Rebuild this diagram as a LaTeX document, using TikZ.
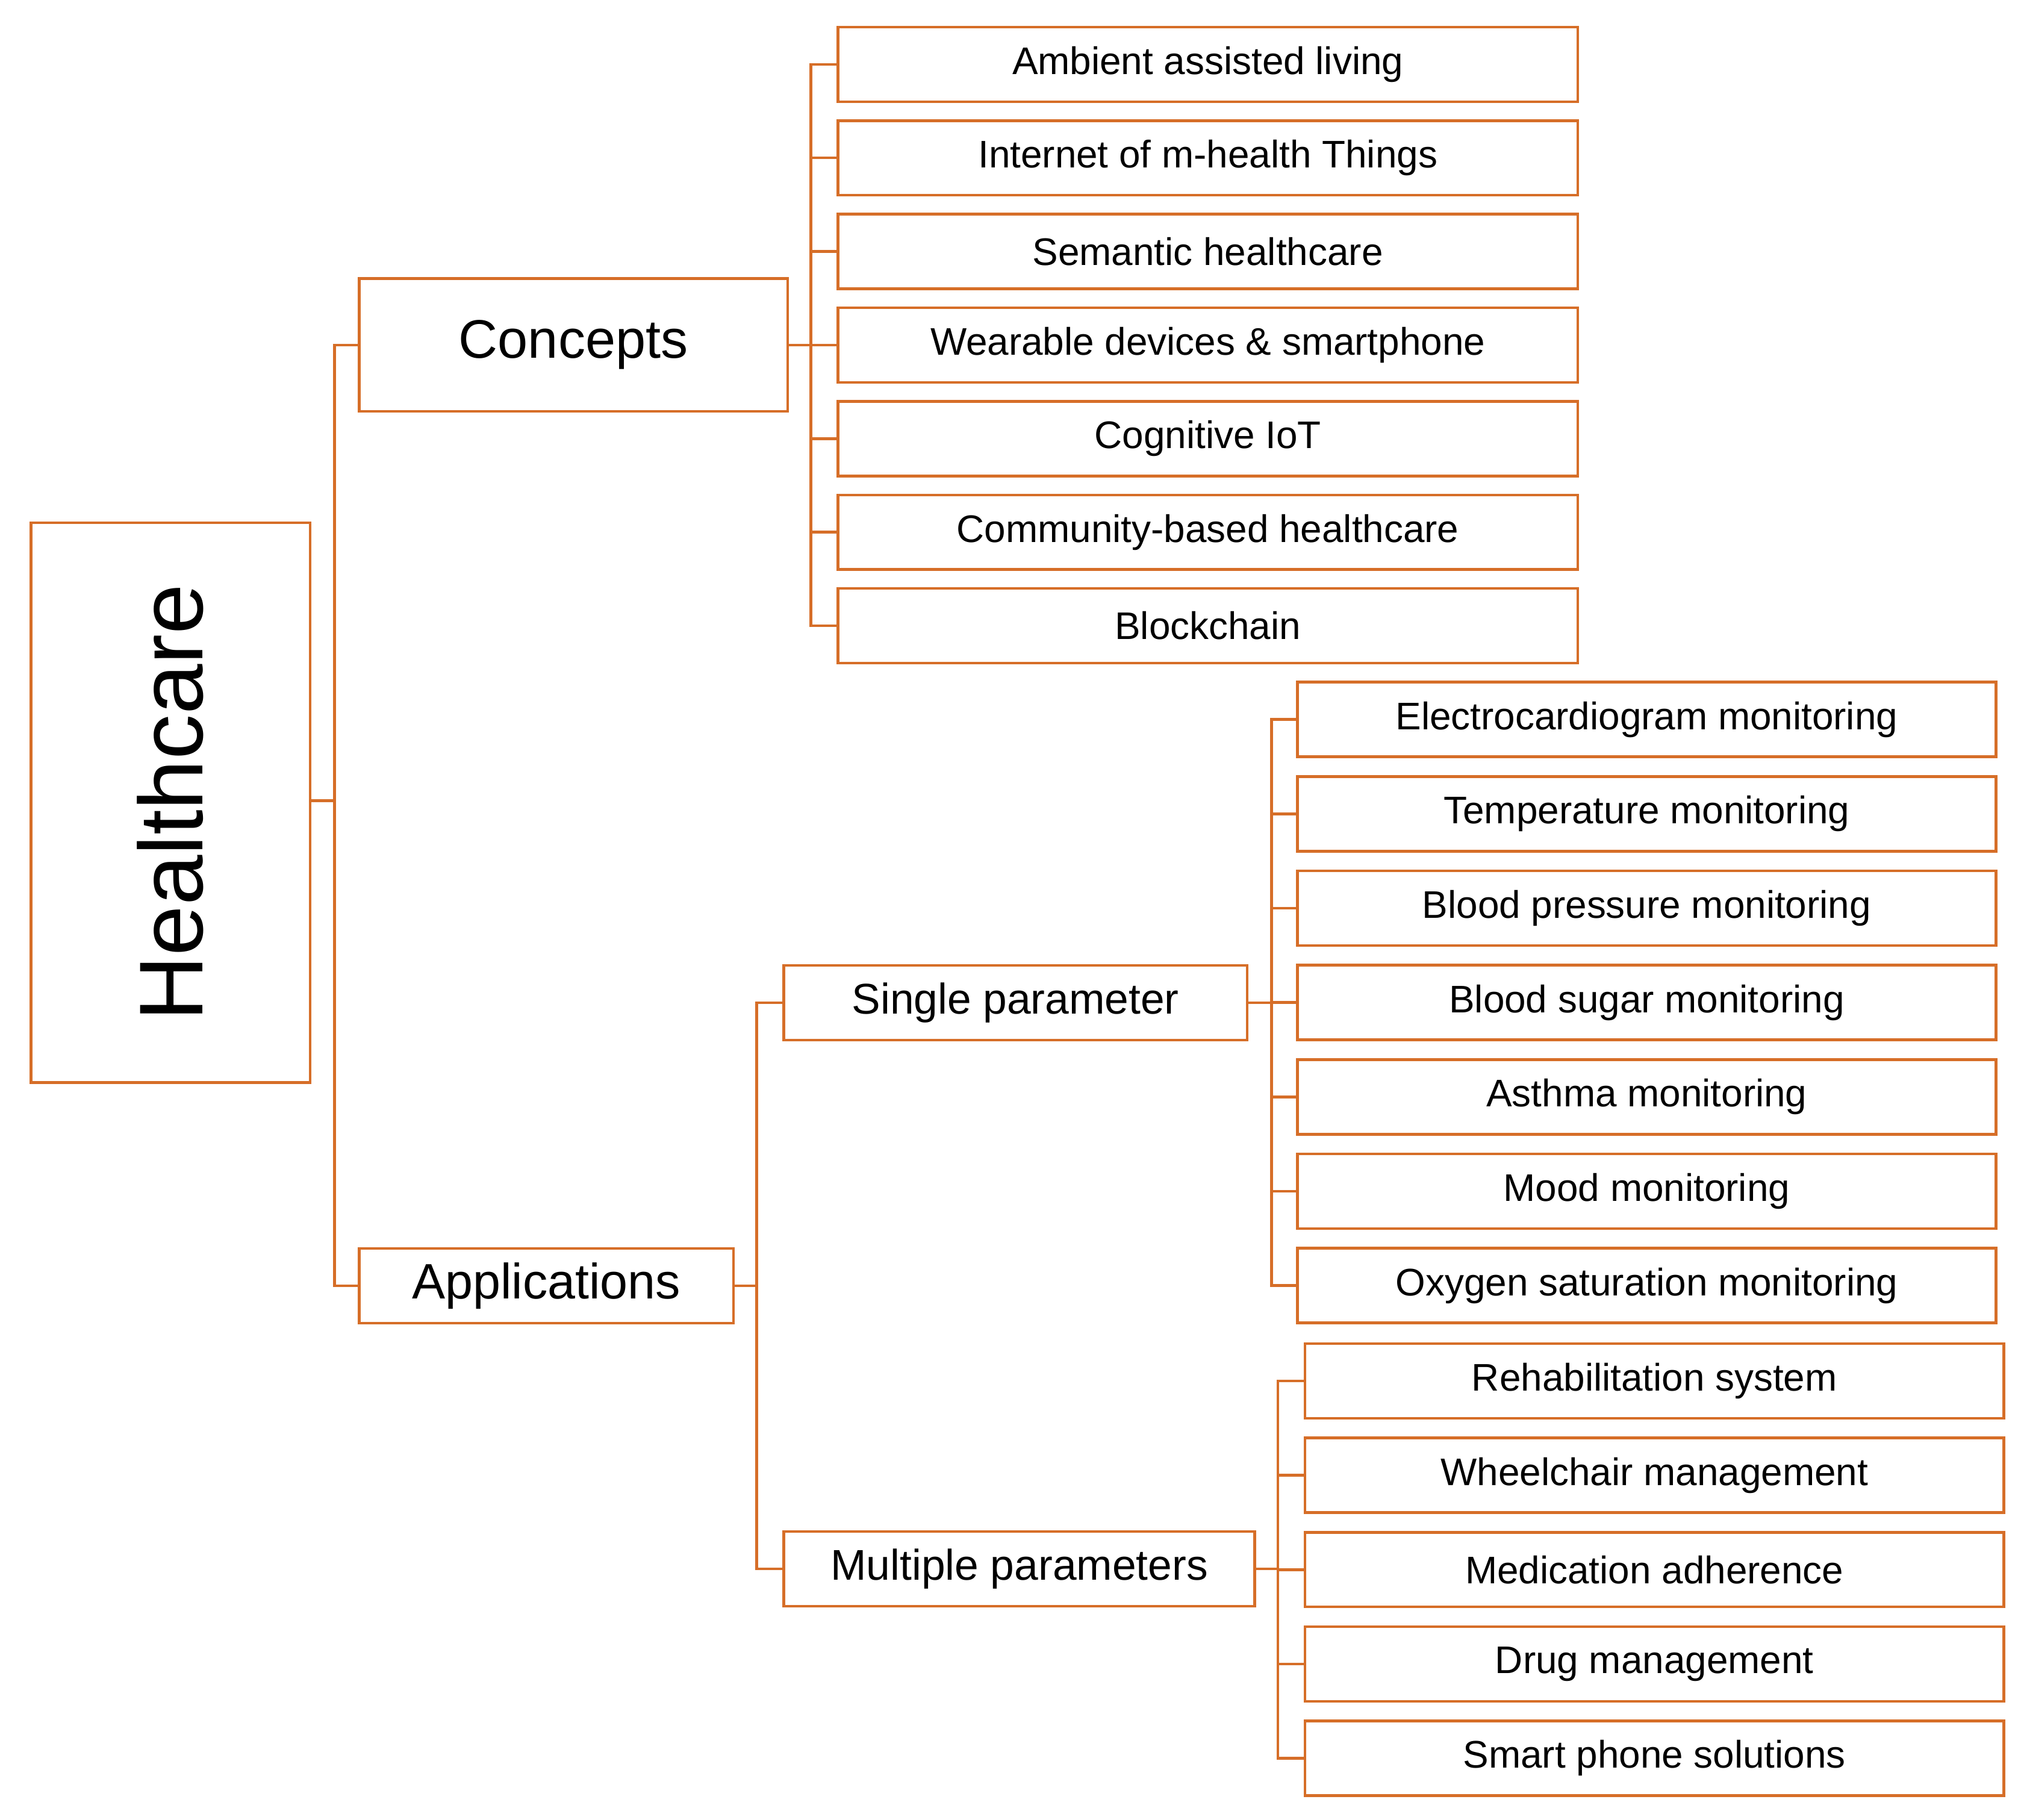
\documentclass[tikz,border=0pt]{standalone}
\usepackage{fontspec}
\setmainfont{Liberation Sans}
\definecolor{treeorange}{RGB}{214,110,40}
\tikzset{
  box/.style={draw=treeorange,line width=1.2pt,inner sep=0pt,minimum height=1.16cm,font=\fontsize{17}{20}\selectfont},
  link/.style={draw=treeorange,line width=1.2pt},
}
\begin{document}
\begin{tikzpicture}[x=0.02cm,y=-0.02cm]
  \useasboundingbox (0,0) rectangle (1568,1414);
  % root and second level
  \node[box,minimum width=4.34cm,minimum height=8.7cm,anchor=north west] (health) at (23,405) {};
  \node[rotate=90,font=\fontsize{40}{46}\selectfont] at (health.center) {Healthcare};
  \node[box,minimum width=6.66cm,minimum height=2.06cm,anchor=west,font=\fontsize{24}{28}\selectfont] (concepts) at (278,268) {Concepts};
  \node[box,minimum width=5.82cm,anchor=west,font=\fontsize{22}{26}\selectfont] (apps) at (278,999) {Applications};
  \node[box,minimum width=7.2cm,anchor=west,font=\fontsize{19}{22}\selectfont] (single) at (608,779) {Single parameter};
  \node[box,minimum width=7.32cm,anchor=west,font=\fontsize{19}{22}\selectfont] (multi) at (608,1219) {Multiple parameters};
  % concept items
  \foreach \t [count=\i] in {Ambient assisted living,Internet of m-health Things,Semantic healthcare,
      Wearable devices \& smartphone,Cognitive IoT,Community-based healthcare,Blockchain}
    \node[box,minimum width=11.5cm,anchor=west] (c\i) at (650,{50+72.7*(\i-1)}) {\t};
  % single parameter items
  \foreach \t [count=\i] in {Electrocardiogram monitoring,Temperature monitoring,Blood pressure monitoring,
      Blood sugar monitoring,Asthma monitoring,Mood monitoring,Oxygen saturation monitoring}
    \node[box,minimum width=10.86cm,anchor=west] (s\i) at (1007,{559+73.3*(\i-1)}) {\t};
  % multiple parameter items
  \foreach \t [count=\i] in {Rehabilitation system,Wheelchair management,Medication adherence,
      Drug management,Smart phone solutions}
    \node[box,minimum width=10.86cm,anchor=west] (m\i) at (1013,{1073+73.25*(\i-1)}) {\t};
  % buses
  \coordinate (hbus) at (260,0);
  \coordinate (cbus) at (630,0);
  \coordinate (abus) at (588,0);
  \coordinate (sbus) at (988,0);
  \coordinate (mbus) at (993,0);
  \draw[link] (health.east |- 0,622) -- (hbus |- 0,622);
  \draw[link] (concepts.west) -| (hbus |- apps.west) -- (apps.west);
  \draw[link] (concepts.east) -- (cbus |- concepts.east);
  \draw[link] (c1.west) -| (cbus |- c7.west) -- (c7.west);
  \foreach \i in {2,...,6} \draw[link] (cbus |- c\i.west) -- (c\i.west);
  \draw[link] (apps.east) -- (abus |- apps.east);
  \draw[link] (single.west) -| (abus |- multi.west) -- (multi.west);
  \draw[link] (single.east) -- (sbus |- single.east);
  \draw[link] (s1.west) -| (sbus |- s7.west) -- (s7.west);
  \foreach \i in {2,...,6} \draw[link] (sbus |- s\i.west) -- (s\i.west);
  \draw[link] (multi.east) -- (mbus |- multi.east);
  \draw[link] (m1.west) -| (mbus |- m5.west) -- (m5.west);
  \foreach \i in {2,...,4} \draw[link] (mbus |- m\i.west) -- (m\i.west);
\end{tikzpicture}
\end{document}
